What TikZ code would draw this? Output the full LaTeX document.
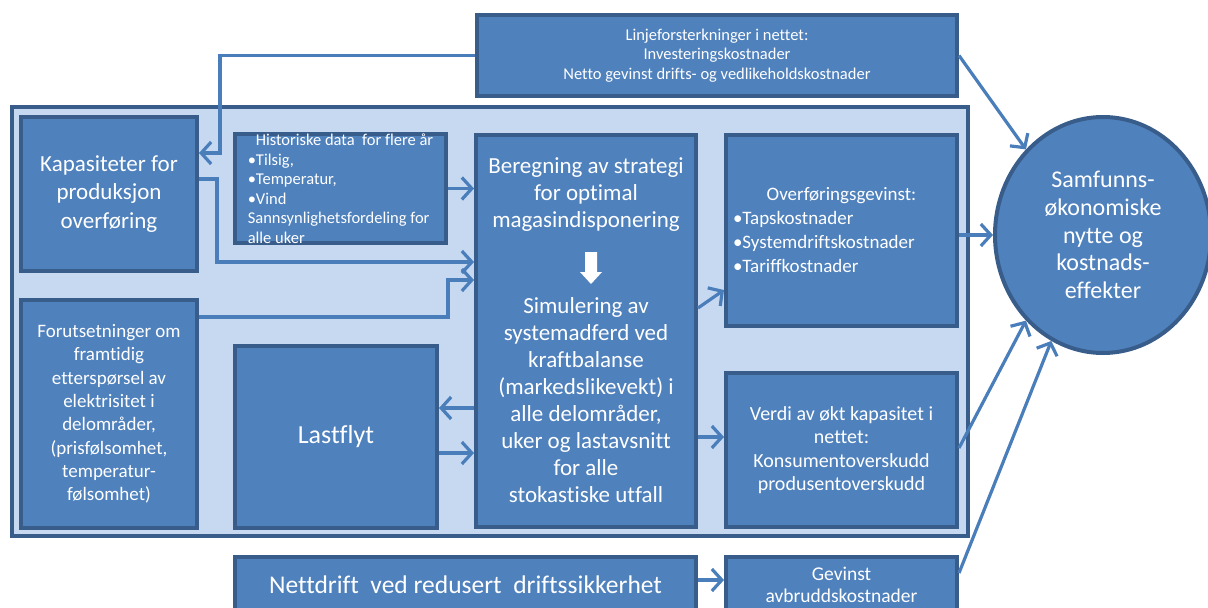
\documentclass[tikz,border=0pt]{standalone}
\usepackage{fontspec}
\setmainfont{Carlito}[Ligatures=NoCommon]
\usetikzlibrary{arrows.meta,shapes.geometric}

\definecolor{boksfyll}{HTML}{4F81BD}
\definecolor{bokskant}{HTML}{385D8A}
\definecolor{rammefyll}{HTML}{C6D9F1}
\definecolor{pilfarge}{HTML}{4A7EBB}

\begin{document}
\begin{tikzpicture}[x=1pt, y=-1pt,
    boks/.style={draw=bokskant, fill=boksfyll, line width=4pt, text=white, inner sep=0pt, align=center},
    pil/.style={draw=pilfarge, line width=3.2pt, -{Straight Barb[length=10pt,width=22pt]}}]

    \useasboundingbox (0,0) rectangle (1208,608);

    % --- Bakgrunn for modellen ---
    \node (ramme) [draw=bokskant, fill=rammefyll, line width=4pt, minimum width=956pt, minimum height=429pt] at (490,321.5) {};

    % --- Bokser ---
    \node (topp) [boks, minimum width=480pt, minimum height=81pt, font=\fontsize{16.5}{19.5}\selectfont] at (717,55.5)
        {Linjeforsterkninger i nettet:\\ Investeringskostnader\\ Netto gevinst drifts- og vedlikeholdskostnader};
    \node (kap) [boks, minimum width=176pt, minimum height=154pt, font=\fontsize{23}{28.5}\selectfont] at (109,194)
        {Kapasiteter for\\ produksjon\\ overføring};
    \node (hist) [boks, minimum width=211pt, minimum height=107pt, align=left, font=\fontsize{16.5}{19.5}\selectfont] at (340.5,188.5)
        {\hspace*{8pt}Historiske data\ \ for flere år\\ •Tilsig,\\ •Temperatur,\\ •Vind\\ Sannsynlighetsfordeling for\\ alle uker};
    \node (forut) [boks, minimum width=176pt, minimum height=228pt, font=\fontsize{19}{23.3}\selectfont] at (109,414)
        {Forutsetninger om\\ framtidig\\ etterspørsel av\\ elektrisitet i\\ delområder,\\ (prisfølsomhet,\\ temperatur-\\ følsomhet)};
    \node (last) [boks, minimum width=202pt, minimum height=182pt, font=\fontsize{26}{30}\selectfont] at (336,437) {Lastflyt};

    % Beregning / simulering
    \node (bereg) [boks, minimum width=220pt, minimum height=392pt] at (586,331) {};
    \node (beregtekst) [text=white, align=center, font=\fontsize{23}{27}\selectfont] at (586,195)
        {Beregning av strategi\\ for optimal\\ magasindisponering};
    \fill[white] (585,252) -- (597,252) -- (597,272) -- (602,272) -- (591,284) -- (580,272) -- (585,272) -- cycle;
    \node (simtekst) [text=white, align=center, font=\fontsize{23}{27}\selectfont] at (586,400)
        {Simulering av\\ systemadferd ved\\ kraftbalanse\\ (markedslikevekt) i\\ alle delområder,\\ uker og lastavsnitt\\ for alle\\ stokastiske utfall};

    \node (overf) [boks, minimum width=231pt, minimum height=191pt, align=left, text width=217pt, font=\fontsize{19}{24}\selectfont] at (841.5,230.5)
        {\makebox[217pt][c]{Overføringsgevinst:}\\ •Tapskostnader\\ •Systemdriftskostnader\\ •Tariffkostnader};
    \node (verdi) [boks, minimum width=231pt, minimum height=154pt, font=\fontsize{20}{23.5}\selectfont] at (841.5,450)
        {Verdi av økt kapasitet i\\ nettet:\\ Konsumentoverskudd\\ produsentoverskudd};

    % --- Nederst ---
    \node (nett) [boks, minimum width=461pt, minimum height=56pt, font=\fontsize{25.5}{28}\selectfont] at (465.5,585)
        {Nettdrift\ \ ved redusert\ \ driftssikkerhet};
    \node (gevinst) [boks, minimum width=231pt, minimum height=56pt, font=\fontsize{19.5}{22}\selectfont] at (841.5,585)
        {Gevinst\\ avbruddskostnader};

    % --- Resultat ---
    \node (samf) [boks, ellipse, minimum width=216pt, minimum height=236pt, font=\fontsize{24}{27.8}\selectfont] at (1103,235)
        {Samfunns-\\ økonomiske\\ nytte og\\ kostnads-\\ effekter};

    % --- Piler ---
    \draw[pil] (topp.west) -| ([xshift=21pt,yshift=41pt]kap.east) -- ([yshift=41pt]kap.east);
    \draw[pil] ([yshift=15pt]kap.east) -| ([xshift=-257pt,yshift=69pt]bereg.west) -- ([yshift=69pt]bereg.west);
    \draw[pil] (hist.east) -- (hist.east -| bereg.west);
    \draw[pil] ([yshift=97pt]forut.east) -| ([xshift=-26pt,yshift=51pt]bereg.west) -- ([yshift=51pt]bereg.west);
    \draw[pil] ([yshift=-77pt]bereg.west) -- ([yshift=29pt]last.east);
    \draw[pil] ([yshift=-16pt]last.east) -- ([yshift=-122pt]bereg.west);
    \draw[pil] ([yshift=23pt]bereg.east) -- ([yshift=-59.5pt]overf.west);
    \draw[pil] ([yshift=-106pt]bereg.east) -- ([yshift=13pt]verdi.west);
    \draw[pil] ([yshift=5pt]nett.east) -- ([yshift=5pt]gevinst.west);

    \draw[pil] (topp.east) -- (samf.132);
    \draw[pil] ([yshift=-4.5pt]overf.east) -- (samf.west);
    \draw[pil] ([yshift=2pt]verdi.east) -- (samf.228);
    \draw[pil] ([yshift=12pt]gevinst.east) -- (samf.244);

\end{tikzpicture}
\end{document}
